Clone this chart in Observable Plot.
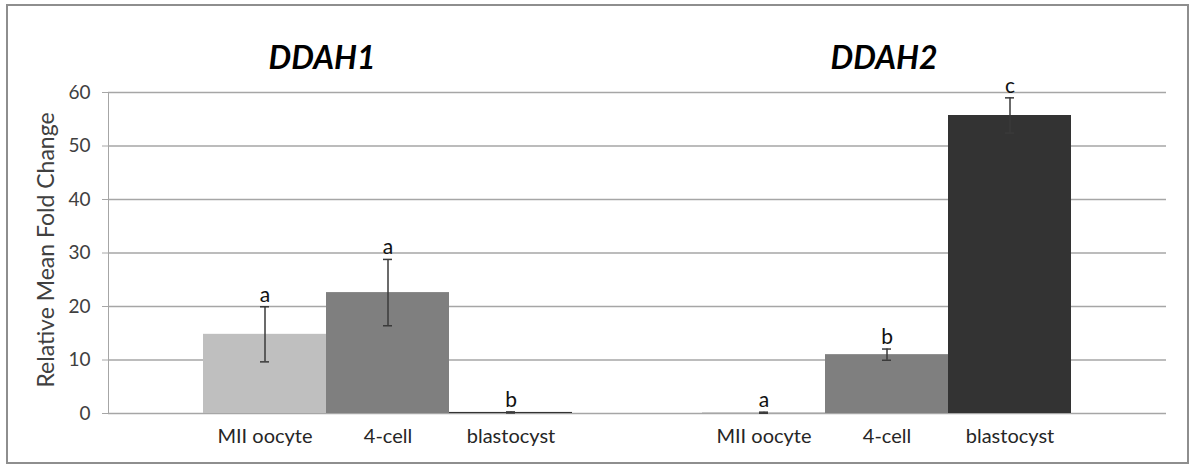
<!DOCTYPE html>
<html>
<head>
<meta charset="utf-8">
<script src="https://cdn.jsdelivr.net/npm/d3@7"></script>
<script src="https://cdn.jsdelivr.net/npm/@observablehq/plot@0.6"></script>
<style>
  html, body { margin: 0; padding: 0; background: #fff; }
  #chart { position: relative; width: 1191px; height: 466px; background: #fff; }
  #chart svg { display: block; }
  #border { position: absolute; left: 6px; top: 4px; width: 1179px; height: 456px; border: 2px solid #8e8e8e; pointer-events: none; }
  [aria-label^="y-axis"] text { fill: #404040; font-size: 19px; }
</style>
</head>
<body>
<div id="chart"><div id="border"></div></div>
<script>
// Relative expression of DDAH1 and DDAH2 across embryo stages
const genes = ["DDAH1", "DDAH2"];
const stages = ["MII oocyte", "4-cell", "blastocyst"];
const meanDDAH1 = [14.8, 22.6, 0.2];
const errDDAH1 = [5.15, 6.2, 0.1];
const meanDDAH2 = [0.15, 11.0, 55.7];
const errDDAH2 = [0.1, 1.05, 3.3];
const lettersDDAH1 = ["a", "a", "b"];
const lettersDDAH2 = ["a", "b", "c"];
const yTicks = [0, 10, 20, 30, 40, 50, 60];
const yLabel = "Relative Mean Fold Change";

const stageColors = ["#bfbfbf", "#7f7f7f", "#333333"];
const means = [meanDDAH1, meanDDAH2];
const errs = [errDDAH1, errDDAH2];
const letters = [lettersDDAH1, lettersDDAH2];

const rows = genes.flatMap((gene, g) => stages.map((stage, s) => ({
  gene,
  stage,
  mean: means[g][s],
  lo: means[g][s] - errs[g][s],
  hi: means[g][s] + errs[g][s],
  letter: letters[g][s]
})));

// horizontal nudges of each gene's cluster and heading inside its panel
const groupShift = {DDAH1: 15, DDAH2: -15};
const titleShift = {DDAH1: -51, DDAH2: -18};

const geneMarks = (gene) => {
  const only = (d) => d.gene === gene;
  const dx = groupShift[gene];
  return [
    Plot.barY(rows, {filter: only, x: "stage", y: "mean", fill: "stage", dx}),
    Plot.ruleX(rows, {filter: only, x: "stage", y1: "lo", y2: "hi", stroke: "#3a3a3a", strokeWidth: 1.5, dx}),
    Plot.tickY(rows, {filter: only, x: "stage", y: "lo", insetLeft: 57, insetRight: 57, stroke: "#3a3a3a", strokeWidth: 1.5, dx}),
    Plot.tickY(rows, {filter: only, x: "stage", y: "hi", insetLeft: 57, insetRight: 57, stroke: "#3a3a3a", strokeWidth: 1.5, dx}),
    Plot.text(rows, {filter: only, x: "stage", y: "hi", text: "letter", lineAnchor: "bottom", dy: -5, fontSize: 21, fill: "#111", dx}),
    Plot.text(rows, {filter: only, x: "stage", text: "stage", frameAnchor: "bottom", dy: 29, fontSize: 20, fill: "#262626", dx}),
    Plot.text(rows, {
      filter: (d) => only(d) && d.stage === stages[0],
      text: "gene", frameAnchor: "top", dy: -46, dx: titleShift[gene],
      fontSize: 32, fontWeight: "bold", fontStyle: "italic", fill: "#000"
    })
  ];
};

const chart = Plot.plot({
  width: 1191,
  height: 466,
  marginLeft: 107,
  marginRight: 25,
  marginTop: 92,
  marginBottom: 53,
  style: {fontFamily: "Lato, sans-serif", fontSize: "19px", color: "#a6a6a6", background: "transparent"},
  facet: {data: rows, x: "gene"},
  fx: {domain: genes, padding: 0, axis: null},
  x: {domain: stages, paddingInner: 0, paddingOuter: 0.635, axis: null},
  y: {domain: [0, 60], ticks: yTicks, tickSize: 6, tickPadding: 12, line: true, label: null},
  color: {domain: stages, range: stageColors},
  marks: [
    Plot.ruleY(yTicks, {stroke: "#a6a6a6", strokeWidth: 1.5}),
    ...genes.flatMap(geneMarks),
    Plot.text(rows, {
      filter: (d) => d.gene === genes[0] && d.stage === stages[0],
      text: () => yLabel, frameAnchor: "left", textAnchor: "middle", rotate: -90, dx: -62, dy: -3,
      fontSize: 23, fill: "#404040"
    })
  ]
});

document.getElementById("chart").prepend(chart);
</script>
</body>
</html>
